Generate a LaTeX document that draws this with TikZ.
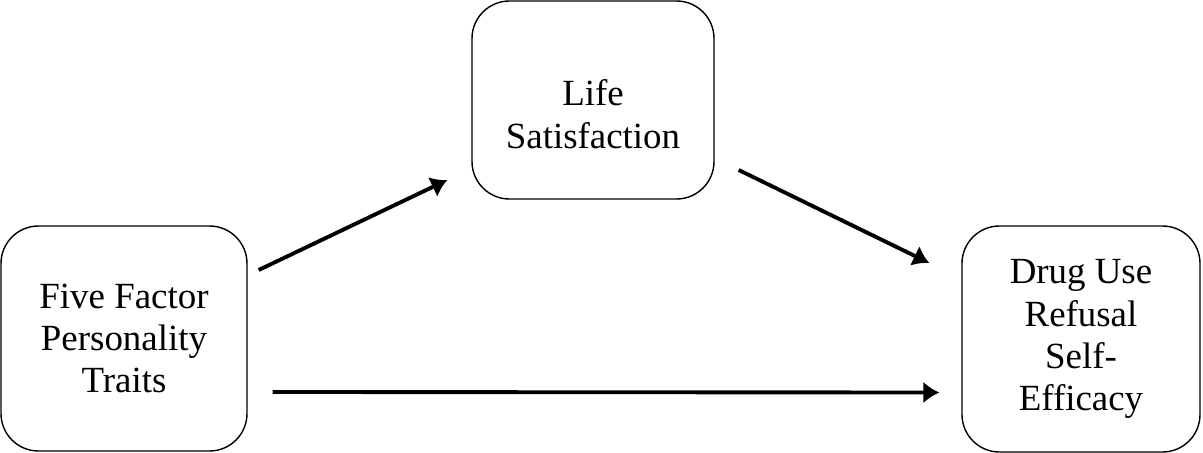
\documentclass[tikz,border=0pt]{standalone}
\usepackage{fontspec}
\setmainfont{Liberation Serif}
\usetikzlibrary{arrows.meta}
\usetikzlibrary{positioning,shapes}

\begin{document}
\begin{tikzpicture}[%
        every node/.style={draw, rectangle, rounded corners=0.75cm, line width=0.8pt, inner sep=0pt, align=center, font=\fontsize{21}{24}\selectfont},
        line width=2.2pt, >={Latex[length=0.32cm,width=0.44cm]}
      ]
      \useasboundingbox (0,0) rectangle (24.06,9.06);
      \node [minimum width=4.92cm, minimum height=4.5cm] (ffpt) at (2.48,2.29) {Five Factor\\Personality\\Traits};
      \node [minimum width=4.84cm, minimum height=3.96cm, text height=55pt] (ls) at (11.86,7.06) {Life\\Satisfaction};
      \node [minimum width=4.76cm, minimum height=4.52cm] (duse) at (21.62,2.28) {Drug Use\\Refusal\\Self-\\Efficacy};
      \draw [->] ([xshift=0.22cm, yshift=1.37cm]ffpt.east) -- ([xshift=-0.48cm, yshift=-1.6cm]ls.west);
      \draw [->] ([xshift=0.48cm, yshift=-1.4cm]ls.east) -- ([xshift=-0.64cm, yshift=1.52cm]duse.west);
      \draw [->] ([xshift=0.5cm, yshift=-1.07cm]ffpt.east) -- ([xshift=-0.44cm, yshift=-1.07cm]duse.west);
    \end{tikzpicture}
\end{document}
